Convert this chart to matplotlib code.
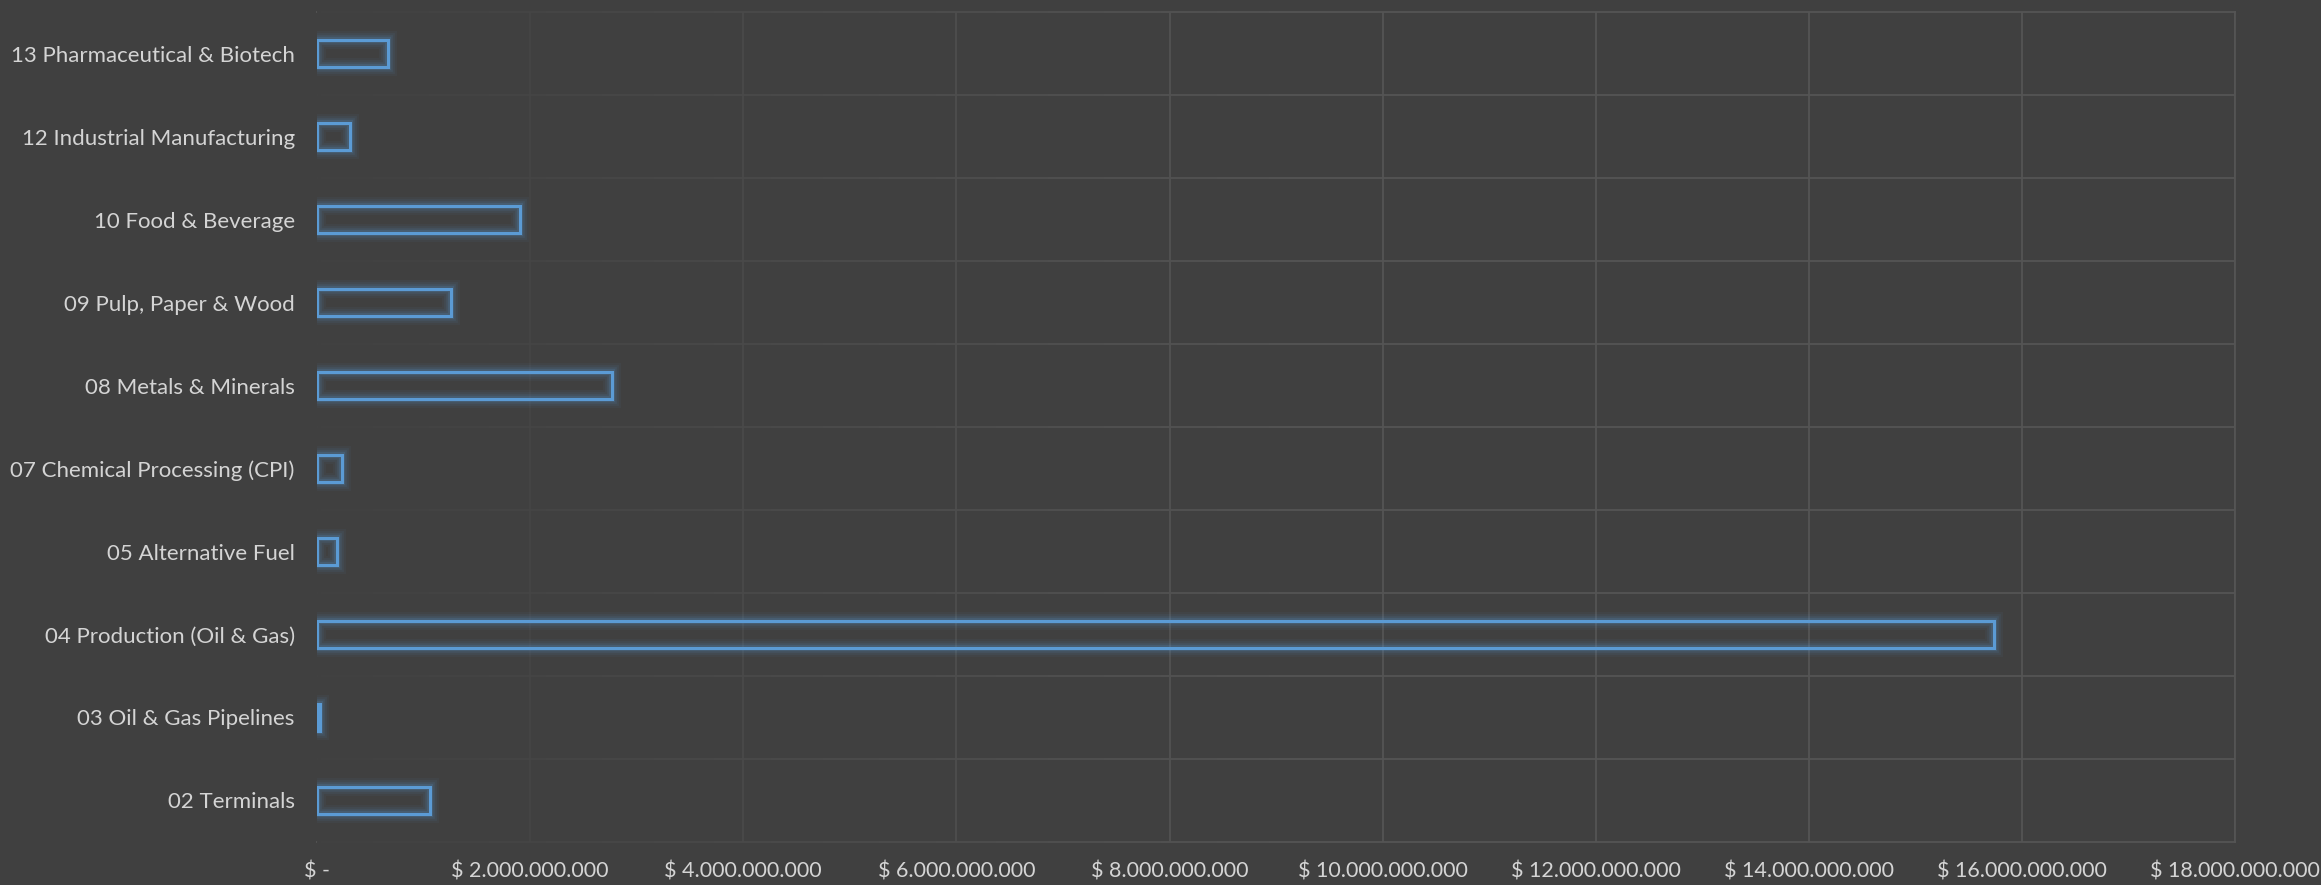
import matplotlib.pyplot as plt
import numpy as np
from matplotlib.ticker import FuncFormatter

# data, bottom to top
categories = ['02 Terminals', '03 Oil & Gas Pipelines', '04 Production (Oil & Gas)',
              '05 Alternative Fuel', '07 Chemical Processing (CPI)', '08 Metals & Minerals',
              '09 Pulp, Paper & Wood', '10 Food & Beverage', '12 Industrial Manufacturing',
              '13 Pharmaceutical & Biotech']
values = [1.06e9, 0.03e9, 15.74e9, 0.19e9, 0.23e9, 2.77e9, 1.26e9, 1.90e9, 0.31e9, 0.67e9]
xticks = np.arange(0, 18e9 + 1, 2e9)

bg = '#404040'
grid_col = '#555555'
bar_col = '#5B9BD5'
text_col = '#D4D4D4'

plt.rcParams['font.family'] = ['Lato', 'DejaVu Sans']

fig = plt.figure(figsize=(23.21, 8.85), dpi=100, facecolor=bg)
ax = fig.add_axes([0.1366, 0.0486, 0.963 - 0.1366, 0.9864 - 0.0486])
ax.set_facecolor(bg)

y = np.arange(len(categories))

# grid: vertical at ticks, horizontal between categories
ax.set_xticks(xticks)
ax.set_yticks(y)
ax.set_yticks(y[:-1] + 0.5, minor=True)
ax.grid(axis='x', which='major', color=grid_col, linewidth=1.3)
ax.grid(axis='y', which='minor', color=grid_col, linewidth=1.3)
for s in ax.spines.values():
    s.set_color(grid_col)
    s.set_linewidth(1.3)
ax.spines['left'].set_visible(False)

# fade the grid toward the left side (sits over grid and spines, under bars)
n = 256
rgba = np.zeros((1, n, 4))
rgba[..., :3] = 0x40 / 255
rgba[..., 3] = np.linspace(0.95, 0, n)
ax.imshow(rgba, extent=[0, 9e9, -0.52, len(categories) - 0.48], aspect='auto',
          zorder=2.6, clip_on=False)
ax.set_xlim(0, 18e9)
ax.set_ylim(-0.5, len(categories) - 0.5)

# glow then outline
h = 0.33
for lw, a in [(13, 0.05), (10, 0.07), (7, 0.1), (4.5, 0.16)]:
    ax.barh(y, values, height=h, color='none', edgecolor=bar_col, linewidth=lw, alpha=a, zorder=3)
ax.barh(y, values, height=h, color='none', edgecolor=bar_col, linewidth=2.2, zorder=4)

ax.set_yticklabels(categories)
ax.tick_params(axis='y', which='both', length=0, pad=16, labelsize=16, labelcolor=text_col)
ax.tick_params(axis='x', length=0, pad=14, labelsize=15.5, labelcolor=text_col)


def money(v, pos):
    if v == 0:
        return '$ -'
    return '$ ' + f'{int(v):,}'.replace(',', '.')


ax.xaxis.set_major_formatter(FuncFormatter(money))

fig.savefig('out.png', dpi=100, facecolor=bg)
